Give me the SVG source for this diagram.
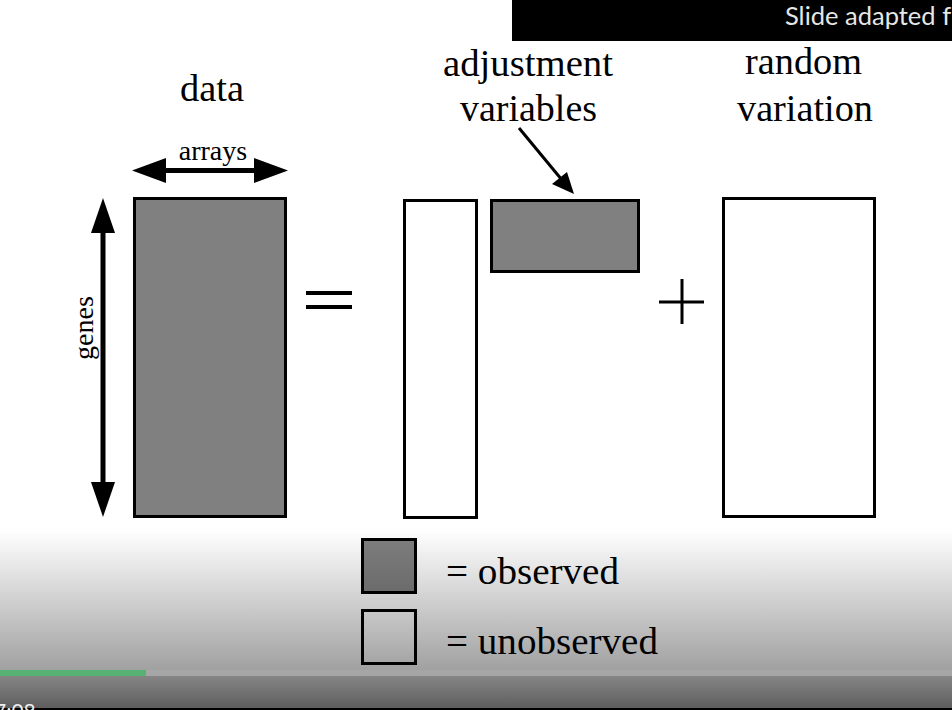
<svg xmlns="http://www.w3.org/2000/svg" width="952" height="710" viewBox="0 0 952 710">
<style>
.serif{font-family:"Liberation Serif","Times New Roman",serif;fill:#000}
.obs{fill:#808080;stroke:#000;stroke-width:3}
.unobs{fill:#fff;stroke:#000;stroke-width:3}
.thick{stroke:#000;stroke-width:5;fill:none}
</style>
<defs>
<linearGradient id="shade" x1="0" y1="0" x2="0" y2="1">
<stop offset="0" stop-color="#000" stop-opacity="0"/>
<stop offset="1" stop-color="#000" stop-opacity="0.37"/>
</linearGradient>
<linearGradient id="bar" x1="0" y1="0" x2="0" y2="1">
<stop offset="0" stop-color="#858585"/>
<stop offset="1" stop-color="#5e5e5e"/>
</linearGradient>
</defs>
<rect width="952" height="710" fill="#fff"/>
<g id="banner">
<rect x="512" y="0" width="440" height="41" fill="#000"/>
<text x="785" y="25" font-family="Lato,'Open Sans',sans-serif" font-size="25.5" fill="#e6e6e6">Slide adapted f</text>
</g>
<g id="data">
<text class="serif" x="212" y="101" font-size="37" text-anchor="middle" textLength="64" lengthAdjust="spacingAndGlyphs">data</text>
<rect class="obs" x="134.5" y="198.5" width="151" height="318"/>
</g>
<g id="arrays">
<text class="serif" x="213" y="160" font-size="28" text-anchor="middle">arrays</text>
<line class="thick" x1="160" y1="170.5" x2="260" y2="170.5"/>
<polygon points="132,170.5 166,158 166,183" fill="#000"/>
<polygon points="288,170.5 254,158 254,183" fill="#000"/>
</g>
<g id="genes">
<text class="serif" transform="translate(93,328) rotate(-90)" font-size="28" text-anchor="middle">genes</text>
<line class="thick" x1="103" y1="225" x2="103" y2="490"/>
<polygon points="103,198 91,233 115,233" fill="#000"/>
<polygon points="103,517 91,482 115,482" fill="#000"/>
</g>
<g id="equals">
<line x1="306" y1="293" x2="352" y2="293" stroke="#000" stroke-width="4"/>
<line x1="306" y1="307" x2="352" y2="307" stroke="#000" stroke-width="4"/>
</g>
<g id="latent">
<rect class="unobs" x="404.5" y="200.5" width="72" height="317"/>
</g>
<g id="adjustment">
<text class="serif" x="528" y="76" font-size="37" text-anchor="middle" textLength="170" lengthAdjust="spacingAndGlyphs">adjustment</text>
<text class="serif" x="528.5" y="121" font-size="37" text-anchor="middle" textLength="137" lengthAdjust="spacingAndGlyphs">variables</text>
<rect class="obs" x="491.5" y="200.5" width="147" height="71"/>
</g>
<g id="connectors">
<line x1="519" y1="128" x2="562" y2="180" stroke="#000" stroke-width="3"/>
<polygon points="574,194 552,184 567,172" fill="#000"/>
</g>
<g id="plus">
<line x1="659" y1="302" x2="704" y2="302" stroke="#000" stroke-width="3"/>
<line x1="682" y1="279" x2="682" y2="324" stroke="#000" stroke-width="3"/>
</g>
<g id="random">
<text class="serif" x="803.5" y="74" font-size="37" text-anchor="middle" textLength="117" lengthAdjust="spacingAndGlyphs">random</text>
<text class="serif" x="805" y="121" font-size="37" text-anchor="middle" textLength="136" lengthAdjust="spacingAndGlyphs">variation</text>
<rect class="unobs" x="723.5" y="198.5" width="151" height="318"/>
</g>
<g id="legend">
<rect class="obs" x="362.5" y="539.5" width="53" height="53"/>
<text class="serif" x="446" y="584" font-size="38" textLength="173" lengthAdjust="spacingAndGlyphs">= observed</text>
<rect class="unobs" x="362.5" y="610.5" width="53" height="53"/>
<text class="serif" x="446" y="654" font-size="38" textLength="212" lengthAdjust="spacingAndGlyphs">= unobserved</text>
</g>
<g id="player">
<rect x="0" y="530" width="952" height="140" fill="url(#shade)"/>
<rect x="0" y="670" width="952" height="6" fill="#a6a6a6"/>
<rect x="0" y="670" width="146" height="6" fill="#57b374"/>
<rect x="0" y="676" width="952" height="32" fill="url(#bar)"/>
<rect x="0" y="708" width="952" height="2" fill="#000"/>
<text x="-6" y="719" font-family="Lato,'Open Sans',sans-serif" font-size="21" fill="#eeeeee">7:08</text>
</g>
</svg>
